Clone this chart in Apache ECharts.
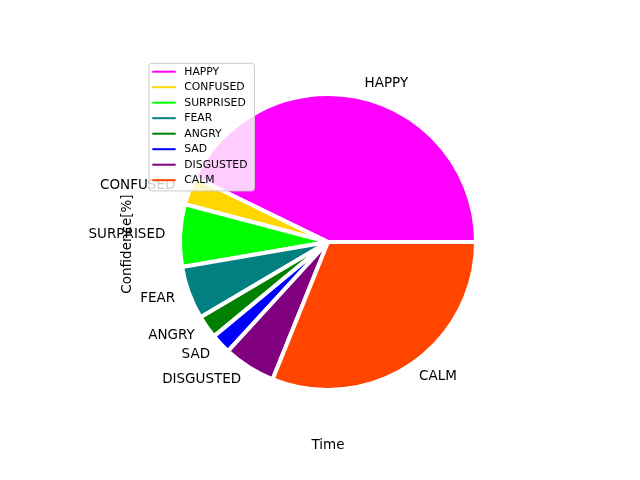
<!DOCTYPE html>
<html>
<head>
<meta charset="utf-8">
<script src="https://cdn.jsdelivr.net/npm/echarts@6/dist/echarts.min.js"></script>
<style>html,body{margin:0;padding:0;background:#fff}#c{width:640px;height:480px}</style>
</head>
<body>
<div id="c"></div>
<script>
var categories = ['HAPPY', 'CONFUSED', 'SURPRISED', 'FEAR', 'ANGRY', 'SAD', 'DISGUSTED', 'CALM'];
var values = [42.8, 3.1, 6.8, 5.8, 2.5, 2.2, 5.7, 31.1];
var colors = ['#ff00ff', '#ffd700', '#00ff00', '#008080', '#008000', '#0000ff', '#800080', '#ff4500'];
var xTitle = 'Time';
var yTitle = 'Confidence[%]';

var FONT = 'DejaVu Sans';
var R = 148;
var chart = echarts.init(document.getElementById('c'), null, {renderer: 'canvas'});
var data = categories.map(function (c, i) {
  return {name: c, value: values[i], itemStyle: {color: colors[i]}};
});
chart.setOption({
  animation: false,
  backgroundColor: '#ffffff',
  legend: {
    orient: 'vertical',
    left: 149,
    top: 63.3,
    data: categories,
    icon: 'rect',
    itemWidth: 23.4,
    itemHeight: 2,
    itemGap: 3.5,
    itemStyle: {borderWidth: 0},
    padding: [2.4, 7, 4.7, 3.3],
    backgroundColor: 'rgba(255,255,255,0.8)',
    borderColor: '#cccccc',
    borderWidth: 1,
    borderRadius: 3,
    selectedMode: false,
    textStyle: {fontFamily: FONT, fontSize: 10.8, lineHeight: 12, color: '#000', padding: [0, 0, 0, 3.6]}
  },
  graphic: [
    {type: 'text', x: 328, y: 445, silent: true,
     style: {text: xTitle, fill: '#000', fontFamily: FONT, fontSize: 13.5, align: 'center', verticalAlign: 'middle', textAlign: 'center', textVerticalAlign: 'middle'}},
    {type: 'text', x: 127, y: 244, rotation: Math.PI / 2, silent: true,
     style: {text: yTitle, fill: '#000', fontFamily: FONT, fontSize: 13.5, align: 'center', verticalAlign: 'middle', textAlign: 'center', textVerticalAlign: 'middle'}}
  ],
  series: [{
    type: 'pie',
    center: [328, 242],
    radius: R,
    startAngle: 0,
    clockwise: false,
    avoidLabelOverlap: false,
    minAngle: 0,
    itemStyle: {borderColor: '#ffffff', borderWidth: 4},
    label: {show: true, position: 'outside', formatter: '{b}', color: '#000', fontFamily: FONT, fontSize: 13.5, distanceToLabelLine: 0},
    labelLine: {show: false, length: 14.8, length2: 0},
    emphasis: {disabled: true},
    data: data
  }]
});
</script>
</body>
</html>
